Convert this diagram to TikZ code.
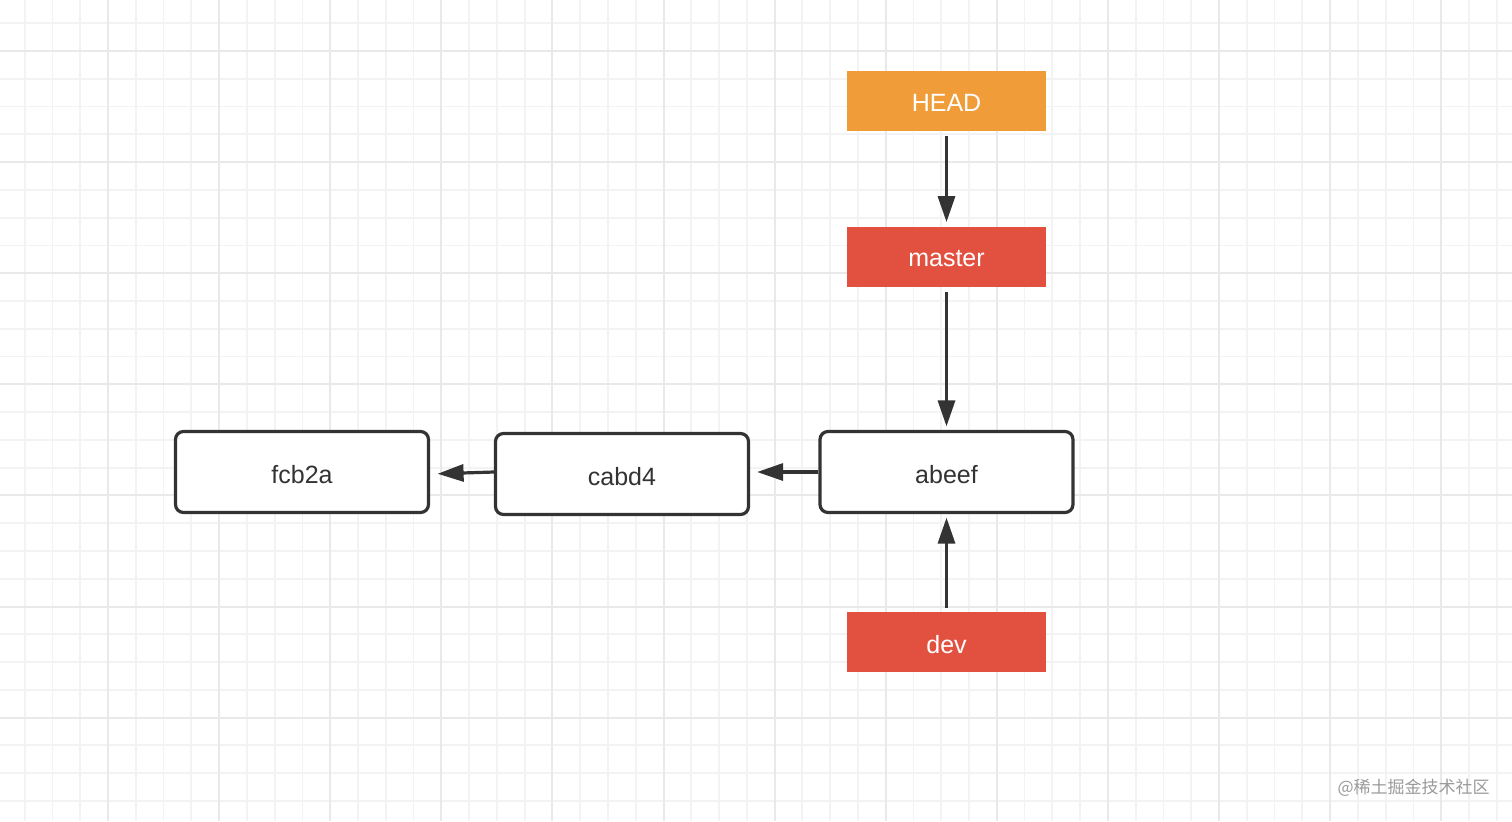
\documentclass[tikz,border=0pt]{standalone}
\usepackage{fontspec}
\setmainfont{Liberation Sans}
\newfontfamily\cjkfont{Noto Sans CJK SC}
\usetikzlibrary{arrows.meta}
\definecolor{headc}{HTML}{F09C38}
\definecolor{branchc}{HTML}{E25040}
\definecolor{inkc}{HTML}{333333}
\definecolor{minorc}{HTML}{F3F3F3}
\definecolor{majorc}{HTML}{E9E9E9}
\definecolor{wmc}{HTML}{9A9A9A}
\newcommand\lowtext[1]{\raisebox{-1.1pt}[\height][\depth]{#1}}
\tikzset{
  refbox/.style={rectangle, fill=#1, text=white, minimum width=99.5pt, minimum height=30pt, inner sep=0pt, font=\fontsize{12.5}{14}\selectfont},
  commit/.style={rectangle, rounded corners=4pt, draw=inkc, line width=1.6pt, fill=white, text=inkc, minimum width=126.5pt, minimum height=40.5pt, inner sep=0pt, font=\fontsize{12.5}{14}\selectfont},
  arr/.style={draw=inkc, line width=1.6pt, -{Triangle[length=13pt,width=8.5pt]}},
  minorline/.style={draw=minorc, line width=0.9pt},
  majorline/.style={draw=majorc, line width=1pt},
}
\begin{document}
\begin{tikzpicture}[x=0.5pt,y=-0.5pt]
\useasboundingbox[fill=white] (0,0) rectangle (1512,821);
% grid
\foreach \i in {-3,...,51} {
  \draw[minorline] (108+\i*27.775,0) -- (108+\i*27.775,821);
}
\foreach \i in {-1,...,28} {
  \draw[minorline] (0,51+\i*27.775) -- (1512,51+\i*27.775);
}
\foreach \i in {0,...,12} {
  \draw[majorline] (108+\i*111.1,0) -- (108+\i*111.1,821);
}
\foreach \i in {0,...,6} {
  \draw[majorline] (0,51+\i*111.1) -- (1512,51+\i*111.1);
}
% nodes
\node[refbox=headc] (head) at (946.5,101) {\lowtext{HEAD}};
\node[refbox=branchc] (master) at (946.5,256.5) {\lowtext{master}};
\node[refbox=branchc] (dev) at (946.5,642) {\lowtext{dev}};
\node[commit] (fcb) at (302,472) {\lowtext{fcb2a}};
\node[commit] (cab) at (622,474) {\lowtext{cabd4}};
\node[commit] (abe) at (946.5,472) {\lowtext{abeef}};
% connectors
\draw[arr, shorten <=2.5pt, shorten >=2pt] (head.south) -- (master.north);
\draw[arr, shorten <=2.5pt, shorten >=1.75pt] (master.south) -- (abe.north);
\draw[arr, shorten <=2pt, shorten >=1.75pt] (dev.north) -- (abe.south);
\draw[arr, shorten >=3.5pt] (abe.west) -- (abe.west -| cab.east);
\draw[arr, shorten >=3.75pt] (cab.west |- abe.west) -- (cab.west -| fcb.east);
% watermark
\node[anchor=east, text=wmc, inner sep=0pt, font=\cjkfont\fontsize{8.5}{10}\selectfont] (wm) at (1490,788) {@稀土掘金技术社区};
\end{tikzpicture}
\end{document}
